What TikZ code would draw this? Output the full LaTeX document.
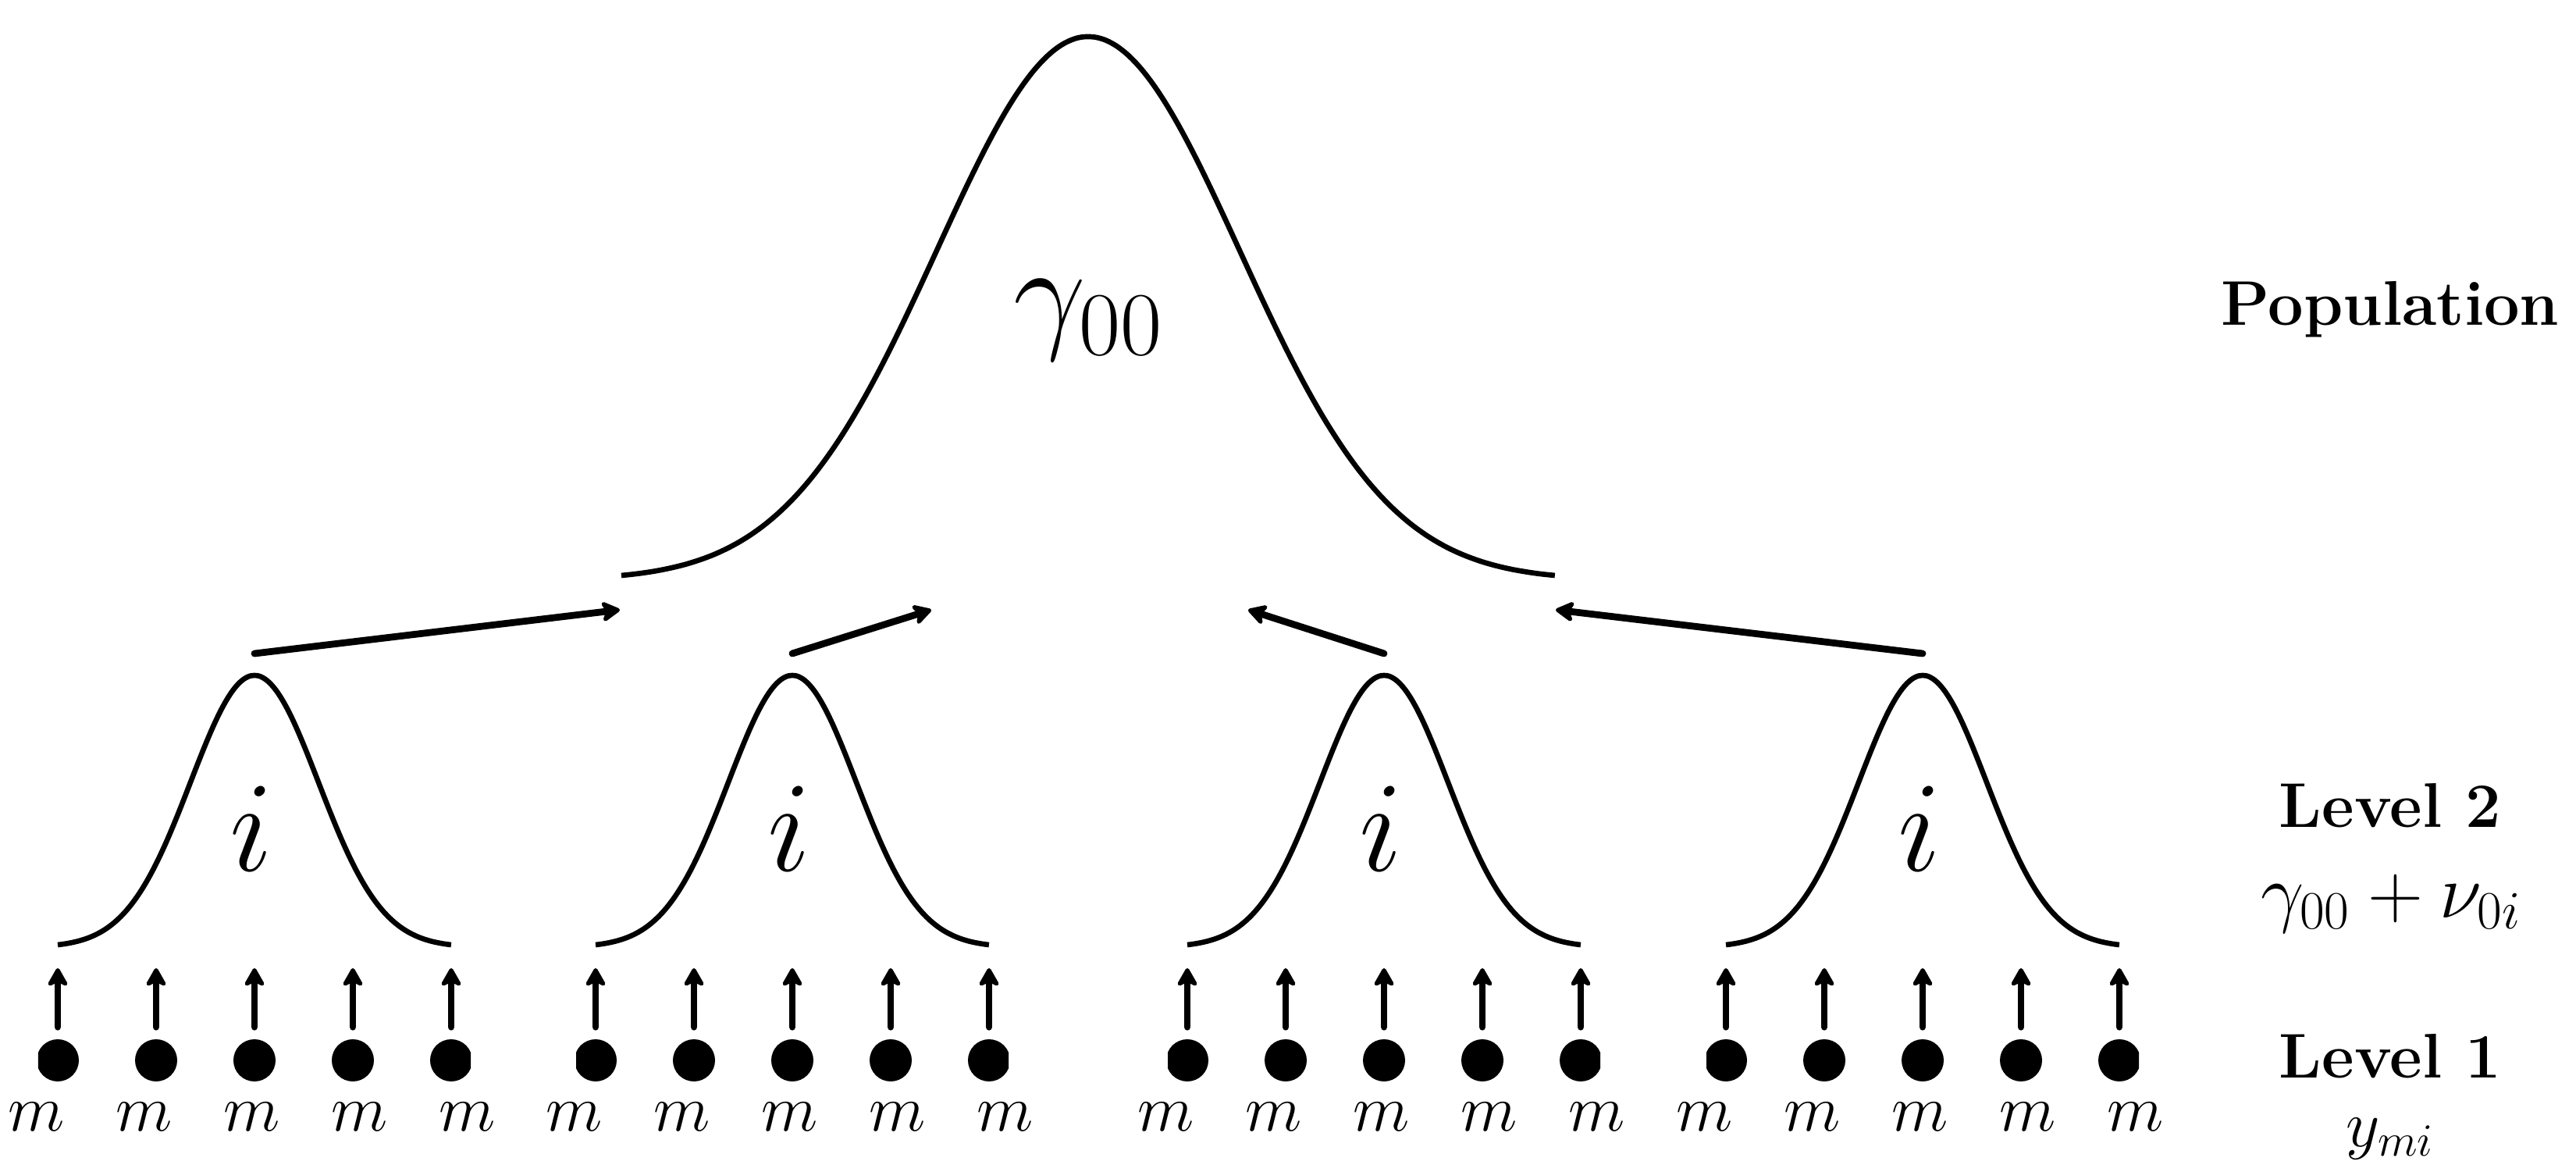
\RequirePackage{fix-cm}
\documentclass[tikz,border=0pt]{standalone}
\usetikzlibrary{arrows.meta}
\tikzset{
  curve/.style={line width=1.9pt},
  tipstyle/.style={-{Stealth[round,length=8pt,width=9pt,inset=2.2pt]}},
  uparrow/.style={line width=2.5pt, line cap=round, tipstyle},
  levarrow/.style={line width=2.5pt, line cap=round, tipstyle},
  dotnode/.style={circle, fill=black, draw=none, inner sep=0pt, minimum size=0.54cm},
  biglbl/.style={font=\fontsize{47}{56}\selectfont, inner sep=0pt},
  mlbl/.style={font=\fontsize{24}{29}\selectfont, inner sep=0pt},
  boldlbl/.style={font=\fontsize{23}{28}\selectfont\bfseries, inner sep=0pt},
  formlbl/.style={font=\fontsize{28}{34}\selectfont, inner sep=0pt},
}
\begin{document}
\begin{tikzpicture}
\useasboundingbox (0,0) rectangle (33,15);
% population distribution
\draw[curve] plot[domain=-5.98:5.98, samples=161, smooth]
  ({13.94+\x},{7.57+6.96*exp(-((\x)*(\x))/(2*1.94*1.94))});
\node[biglbl, anchor=base] (g00) at (13.94,10.70) {$\gamma_{00}$};
% right-hand labels
\node[boldlbl, anchor=base] (pop) at (30.62,10.83) {Population};
\node[boldlbl, anchor=base] (lev2) at (30.62,4.41) {Level 2};
\node[formlbl, anchor=base] (form2) at (30.63,3.25) {$\gamma_{00}+\nu_{0i}$};
\node[boldlbl, anchor=base] (lev1) at (30.62,1.20) {Level 1};
\node[mlbl, anchor=base] (form1) at (30.62,0.32) {$y_{mi}$};
% groups
\foreach \g/\c/\t in {1/3.26/7.94, 2/10.15/11.93, 3/17.73/15.99, 4/24.63/19.93}{
  \draw[curve] plot[domain=-2.52:2.52, samples=121, smooth]
    ({\c+\x},{2.869+3.481*exp(-((\x)*(\x))/1.3448)});
  \node[biglbl, anchor=base] (i\g) at ({\c-0.04},3.85) {$i$};
  \coordinate (pk\g) at (\c,6.63);
  \coordinate (tip\g) at (\t,7.19);
  \draw[levarrow] (pk\g) -- (tip\g);
  \begin{scope}
    \clip ({\c-2.77},0.9) rectangle ({\c+2.77},2.0);
    \foreach \k [count=\n] in {-2,...,2}
      \node[dotnode] (d\g\n) at ({\c+1.26*(\k)},1.42) {};
  \end{scope}
  \foreach \k [count=\n] in {-2,...,2}{
    \coordinate (a\g\n) at ({\c+1.26*(\k)},2.60);
    \draw[uparrow] ([yshift=0.15cm]d\g\n.north) -- (a\g\n);
    \node[mlbl, anchor=base] (m\g\n) at ({\c+1.38*(\k)-0.03},0.52) {$m$};
  }
}
\end{tikzpicture}
\end{document}
